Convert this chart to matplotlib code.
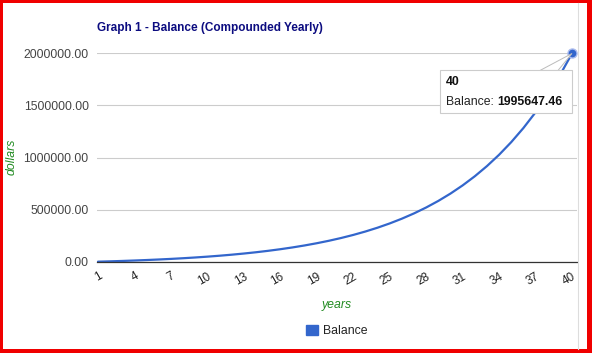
import matplotlib
matplotlib.use("Agg")
import matplotlib.pyplot as plt
from matplotlib.patches import Rectangle, Patch, Polygon
from matplotlib.lines import Line2D

W, H = 592, 353

years = list(range(1, 41))
balance = [2988, 6320, 10035, 14177, 18796, 23945, 29687, 36089, 43228, 51187,
           60062, 69957, 80991, 93292, 107009, 122304, 139356, 158371, 179572, 203211,
           229568, 258956, 291725, 328261, 369000, 414422, 465069, 521540, 584505, 654712,
           732991, 820273, 917593, 1026105, 1147095, 1282000, 1432416, 1600132, 1787136, 1995647.46]
tick_years = list(range(1, 41, 3))
y_ticks = [0, 500000, 1000000, 1500000, 2000000]

title = "Graph 1 - Balance (Compounded Yearly)"
series_name = "Balance"
blue = "#3366cc"
green = "#228b22"

plt.rcParams['font.family'] = ['Liberation Sans', 'DejaVu Sans']

fig = plt.figure(figsize=(W / 100, H / 100), dpi=100)
fig.patch.set_facecolor("white")


def px_box(x, y, w, h):
    # pixel box measured from top-left -> figure fraction
    return (x / W, 1 - (y + h) / H), w / W, h / H


ax = fig.add_axes([97 / W, 1 - 262 / H, 480 / W, 209 / H])
ax.plot(years, balance, color=blue, lw=1.6, solid_capstyle="round")
ax.plot(years[-1], balance[-1], "o", color=blue, ms=6.5, clip_on=False,
        mec="#aabbee", mew=1)

ax.set_xlim(0.92, 40.41)
ax.set_ylim(0, 2000000)
ax.set_yticks(y_ticks)
ax.set_yticklabels(["%.2f" % v for v in y_ticks], color="#444444", fontsize=8.8)
ax.set_xticks(tick_years)
ax.set_xticklabels([str(t) for t in tick_years], rotation=30, ha="right",
                   rotation_mode="anchor", color="#222222", fontsize=8.5)
ax.tick_params(axis="both", length=0)
ax.tick_params(axis="y", pad=6)
ax.tick_params(axis="x", pad=6)
ax.grid(axis="y", color="#cccccc", lw=0.8)
ax.set_axisbelow(True)
for side in ["top", "right", "left"]:
    ax.spines[side].set_visible(False)
ax.spines["bottom"].set_color("#333333")
ax.spines["bottom"].set_linewidth(0.9)

fig.text(97 / W, 1 - 28 / H, title, fontsize=8.5, fontweight="bold",
         color="#0c0c80", ha="left", va="center")
fig.text(12 / W, 1 - 157 / H, "dollars", fontsize=8.8, style="italic",
         color=green, rotation=90, ha="center", va="center")
fig.text(337 / W, 1 - 305 / H, "years", fontsize=8.8, style="italic",
         color=green, ha="center", va="center")

ax.legend(handles=[Patch(color=blue, label=series_name)], loc="center",
          bbox_to_anchor=(0.5, -0.33), frameon=False, fontsize=8.8,
          handlelength=0.95, handleheight=0.95, handletextpad=0.45,
          labelcolor="#222222")

# tooltip on the last point
fig.canvas.draw()
px, py = ax.transData.transform((years[-1], balance[-1]))
fx = lambda v: v / W
fy = lambda v: v / H
fig.add_artist(Polygon([(fx(px - 32), fy(py - 17)), (fx(px), fy(py)), (fx(px - 14), fy(py - 17))],
                       closed=True, transform=fig.transFigure, facecolor="white",
                       edgecolor="#bbbbbb", lw=0.7, zorder=4))
fig.add_artist(Rectangle((fx(px - 130), fy(py - 59)), fx(131), fy(42), transform=fig.transFigure,
                         facecolor="#dddddd", edgecolor="none", zorder=4))
fig.add_artist(Rectangle((fx(px - 132), fy(py - 60)), fx(132), fy(43), transform=fig.transFigure,
                         facecolor="white", edgecolor="#cccccc", lw=0.8, zorder=5))
fig.text(fx(px - 126), fy(py - 29), str(years[-1]), fontsize=8.8, fontweight="bold",
         color="#111111", ha="left", va="center", zorder=6)
t1 = fig.text(fx(px - 126), fy(py - 49), series_name + ": ", fontsize=8.8,
              color="#222222", ha="left", va="center", zorder=6)
fig.canvas.draw()
bb = t1.get_window_extent()
fig.text(fx(bb.x1), fy(py - 49), "%.2f" % balance[-1], fontsize=8.8,
         fontweight="bold", color="#111111", ha="left", va="center", zorder=6)

# chart frame
fig.add_artist(Line2D([578 / W, 578 / W], [1 - 3 / H, 1 - 349 / H], transform=fig.transFigure,
                      color="#dddddd", lw=0.8))
for x, y, w, h in [(0, 0, 3, H), (0, 0, W, 3), (587, 0, 5, H), (0, 349, W, 4)]:
    xy, ww, hh = px_box(x, y, w, h)
    fig.add_artist(Rectangle(xy, ww, hh, transform=fig.transFigure, color="#f00000", lw=0))

fig.savefig("out.png", dpi=100)
